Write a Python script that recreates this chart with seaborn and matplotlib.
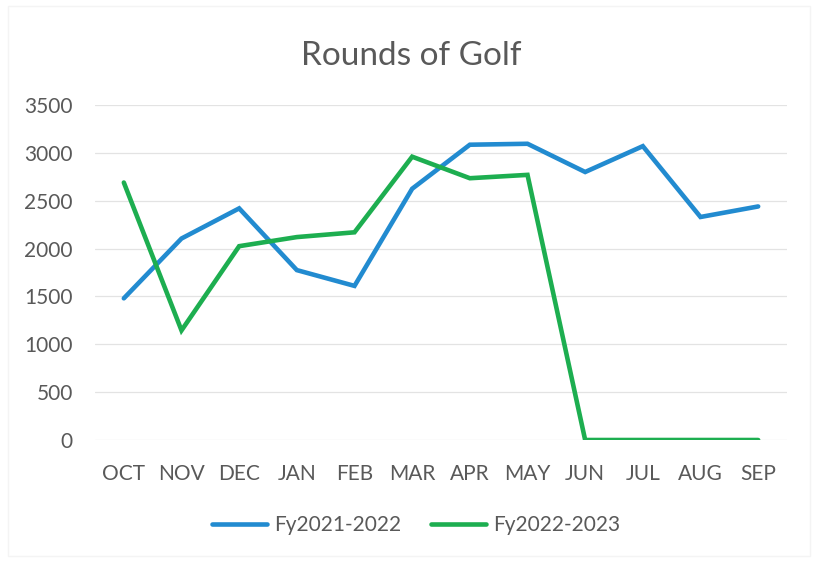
import matplotlib
matplotlib.use("Agg")
import matplotlib.pyplot as plt
from matplotlib.patches import Rectangle
import seaborn as sns
import pandas as pd

months = ["OCT", "NOV", "DEC", "JAN", "FEB", "MAR", "APR", "MAY", "JUN", "JUL", "AUG", "SEP"]
fy2122 = [1480, 2105, 2420, 1775, 1610, 2625, 3085, 3095, 2800, 3070, 2330, 2440]
fy2223 = [2690, 1145, 2025, 2120, 2170, 2960, 2735, 2770, 0, 0, 0, 0]
series_names = ["Fy2021-2022", "Fy2022-2023"]
yticks = [0, 500, 1000, 1500, 2000, 2500, 3000, 3500]

df = pd.DataFrame({
    "month": months * 2,
    "pos": list(range(len(months))) * 2,
    "rounds": fy2122 + fy2223,
    "season": [series_names[0]] * len(months) + [series_names[1]] * len(months),
})

sns.set_theme(style="white")
plt.rcParams["font.family"] = ["Lato", "DejaVu Sans"]
text_color = "#595959"

fig = plt.figure(figsize=(8.16, 5.62), dpi=100)
ax = fig.add_axes([95 / 816, 1 - 440 / 562, (787 - 95) / 816, (440 - 105) / 562])

palette = {series_names[0]: "#228bd0", series_names[1]: "#1dae50"}
sns.lineplot(data=df, x="pos", y="rounds", hue="season", palette=palette,
             linewidth=3.3, ax=ax, legend=True)
for line in ax.get_lines():
    line.set_solid_joinstyle("miter")
    line.set_solid_capstyle("round")

ax.set_xlim(-0.5, len(months) - 0.5)
ax.set_ylim(0, 3500)
ax.set_yticks(yticks)
ax.set_yticklabels([str(v) for v in yticks])
ax.set_xticks(range(len(months)))
ax.set_xticklabels(months)
ax.tick_params(axis="both", length=0, labelsize=15, colors=text_color)
ax.tick_params(axis="x", pad=17)
ax.tick_params(axis="y", pad=16)
ax.set_xlabel("")
ax.set_ylabel("")
ax.grid(axis="y", color="#e3e3e3", linewidth=0.9)
ax.set_axisbelow(True)
for s in ax.spines.values():
    s.set_visible(False)

# faint chart-area border
fig.add_artist(Rectangle((8 / 816, 1 - 556 / 562), (810 - 8) / 816, (556 - 6) / 562,
                         transform=fig.transFigure, fill=False,
                         edgecolor="#f4f4f4", linewidth=1.0))

fig.text(411 / 816, 1 - 65 / 562, "Rounds of Golf", ha="center", va="baseline",
         fontsize=24, color=text_color)

handles, labels = ax.get_legend_handles_labels()
ax.legend(handles, labels, loc="center", bbox_to_anchor=(416 / 816, 1 - 525 / 562),
          bbox_transform=fig.transFigure, ncol=2, frameon=False, fontsize=15,
          labelcolor=text_color, handlelength=2.65, handletextpad=0.33,
          columnspacing=1.45)

fig.savefig("out.png", dpi=100, facecolor="white")
